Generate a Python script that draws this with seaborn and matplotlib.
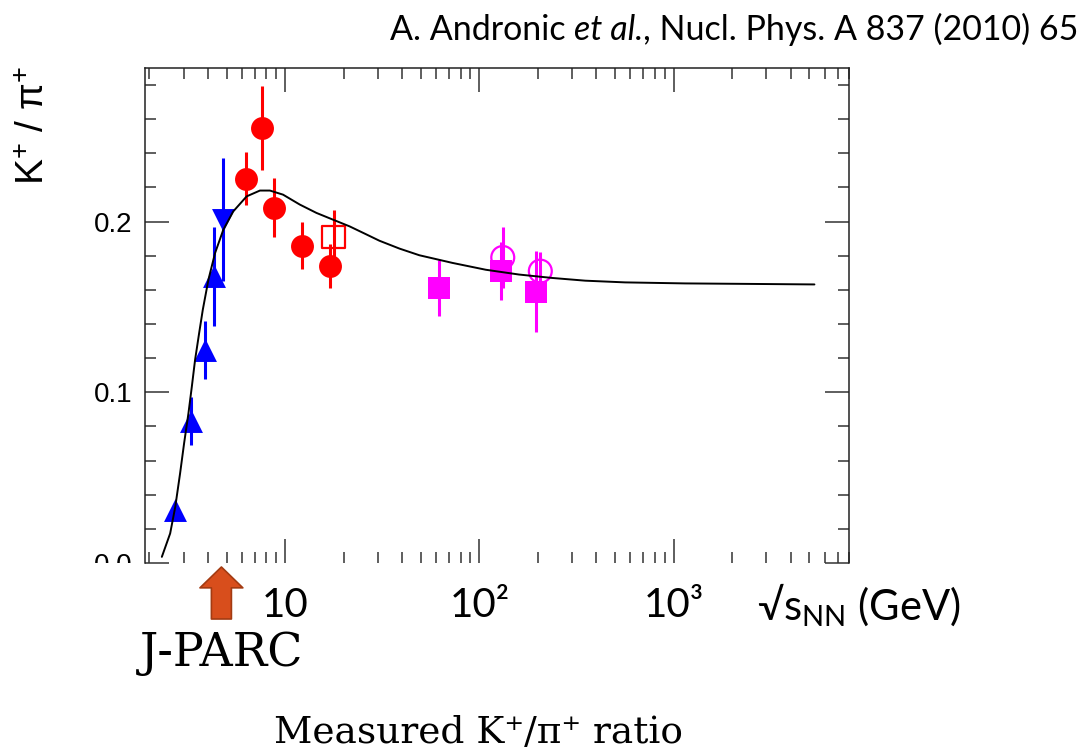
import numpy as np
import pandas as pd
import matplotlib
matplotlib.use("Agg")
import matplotlib.pyplot as plt
import seaborn as sns
from matplotlib.patches import Rectangle
from matplotlib.ticker import FixedLocator, LogLocator, MultipleLocator, NullFormatter

# ---------------- data ----------------
# statistical-hadronization model curve
model_sqrts = [2.32, 2.56, 2.72, 2.88, 3.02, 3.18, 3.31, 3.44, 3.61, 3.77, 4.03, 4.36,
               4.81, 5.41, 6.34, 7.42, 8.35, 9.76, 11.9, 14.5, 17.6, 21.5, 26.1, 30.6,
               38.8, 49.1, 72.8, 108, 160, 237, 351, 563, 1144, 2510, 5310]
model_ratio = [0.0036, 0.0173, 0.0329, 0.0525, 0.0701, 0.0877, 0.1033, 0.1190, 0.1347,
               0.1484, 0.1660, 0.1816, 0.1953, 0.2060, 0.2148, 0.2182, 0.2182, 0.2158,
               0.2100, 0.2051, 0.2012, 0.1972, 0.1926, 0.1888, 0.1842, 0.1803, 0.1758,
               0.1718, 0.1690, 0.1670, 0.1654, 0.1644, 0.1638, 0.1635, 0.1632]

# AGS (blue up triangles)
ags_sqrts = [2.70, 3.28, 3.86, 4.30]
ags_ratio = [0.031, 0.083, 0.125, 0.168]
ags_err = [0.004, 0.014, 0.017, 0.029]
# AGS (blue down triangle)
ags2_sqrts = [4.77]
ags2_ratio = [0.201]
ags2_err = [0.036]
# SPS NA49 (red filled circles)
na49_sqrts = [6.28, 7.59, 8.75, 12.2, 17.1]
na49_ratio = [0.225, 0.255, 0.208, 0.186, 0.174]
na49_err = [0.0155, 0.0245, 0.0173, 0.014, 0.013]
# SPS (red open square)
sps_sqrts = [17.8]
sps_ratio = [0.191]
sps_err = [0.016]
# RHIC (magenta filled squares)
rhic_sqrts = [61.7, 128.8, 196]
rhic_ratio = [0.161, 0.171, 0.159]
rhic_err = [0.0163, 0.017, 0.0237]
# RHIC (magenta open circles)
rhic2_sqrts = [132, 206]
rhic2_ratio = [0.179, 0.171]
rhic2_err = [0.0176, 0.011]

x_ticks = [10, 100, 1000]
x_tick_labels = ["10", "10²", "10³"]
y_ticks = [0.0, 0.1, 0.2]
y_tick_labels = ["0.0", "0.1", "0.2"]
JPARC_SQRTS = 4.7

# ---------------- style ----------------
sns.set_theme(style="ticks")
plt.rcParams["font.family"] = ["Liberation Sans", "DejaVu Sans"]
plt.rcParams["text.color"] = "black"
plt.rcParams["axes.labelcolor"] = "black"
plt.rcParams["xtick.color"] = "black"
plt.rcParams["ytick.color"] = "black"
plt.rcParams["mathtext.fontset"] = "custom"
plt.rcParams["mathtext.rm"] = "Lato"
plt.rcParams["mathtext.it"] = "Lato:italic"
plt.rcParams["mathtext.bf"] = "Lato:bold"

W, H = 1086, 751
fig = plt.figure(figsize=(W / 100, H / 100), dpi=100)
fig.patch.set_facecolor("white")
L, R, T, B = 145, 849, 68, 563
ax = fig.add_axes([L / W, 1 - B / H, (R - L) / W, (B - T) / H])
ax.set_facecolor("white")

BLUE, RED, MAG = "#0000FF", "#FF0000", "#FF00FF"
MS = 16.5 ** 2
ELW = 2.2

# error bars
for xs, ys, es, c in [(ags_sqrts, ags_ratio, ags_err, BLUE),
                      (ags2_sqrts, ags2_ratio, ags2_err, BLUE),
                      (na49_sqrts, na49_ratio, na49_err, RED),
                      (sps_sqrts, sps_ratio, sps_err, RED),
                      (rhic_sqrts, rhic_ratio, rhic_err, MAG),
                      (rhic2_sqrts, rhic2_ratio, rhic2_err, MAG)]:
    ax.errorbar(xs, ys, yerr=es, fmt="none", ecolor=c, elinewidth=ELW, capsize=0, zorder=2)

# filled markers
sns.scatterplot(x=ags_sqrts, y=ags_ratio, marker="^", s=MS, color=BLUE, edgecolor=BLUE,
                linewidth=0, ax=ax, zorder=3)
sns.scatterplot(x=ags2_sqrts, y=ags2_ratio, marker="v", s=MS, color=BLUE, edgecolor=BLUE,
                linewidth=0, ax=ax, zorder=3)
sns.scatterplot(x=na49_sqrts, y=na49_ratio, marker="o", s=MS, color=RED, edgecolor=RED,
                linewidth=0, ax=ax, zorder=3)
sns.scatterplot(x=rhic_sqrts, y=rhic_ratio, marker="s", s=MS * 0.95, color=MAG, edgecolor=MAG,
                linewidth=0, ax=ax, zorder=3)
# open markers
sns.scatterplot(x=sps_sqrts, y=sps_ratio, marker="s", s=MS, facecolor="none", edgecolor=RED,
                linewidth=1.6, ax=ax, zorder=3)
sns.scatterplot(x=rhic2_sqrts, y=rhic2_ratio, marker="o", s=MS, facecolor="none", edgecolor=MAG,
                linewidth=1.6, ax=ax, zorder=3)

# model curve
sns.lineplot(x=model_sqrts, y=model_ratio, color="black", linewidth=1.4, ax=ax, zorder=4,
             sort=False, estimator=None)

# ---------------- axes ----------------
ax.set_xscale("log")
ax.set_xlim(1.9, 8000)
ax.set_ylim(0, 0.29)
ax.xaxis.set_major_locator(FixedLocator(x_ticks))
ax.xaxis.set_minor_locator(LogLocator(base=10, subs=np.arange(2, 10)))
ax.xaxis.set_minor_formatter(NullFormatter())
ax.set_xticklabels(x_tick_labels, fontsize=29, family=["Lato", "DejaVu Sans"], color="black")
ax.yaxis.set_major_locator(FixedLocator(y_ticks))
ax.yaxis.set_minor_locator(MultipleLocator(0.02))
ax.set_yticklabels(y_tick_labels, fontsize=20, family="Liberation Sans", color="black")

ax.tick_params(which="both", direction="in", top=True, right=True, bottom=True, left=True,
               color="#333333", width=1.1)
ax.tick_params(which="major", length=17)
ax.tick_params(which="minor", length=8)
ax.tick_params(axis="x", which="major", pad=17)
ax.tick_params(axis="y", which="major", pad=9)
for side in ["left", "top", "right"]:
    ax.spines[side].set_color("#222222")
    ax.spines[side].set_linewidth(1.1)
ax.spines["bottom"].set_visible(False)
ax.grid(False)

ax.set_ylabel("K$^{+}$ / π$^{+}$", fontsize=28, family="Liberation Sans", color="black")
ax.yaxis.set_label_coords(-0.132, 0.883)
ax.set_xlabel("")

# cover the lower half of the "0.0" label as in the reference
fig.add_artist(Rectangle((0, 1 - 600 / H), 140 / W, (600 - B) / H, transform=fig.transFigure,
                         fc="white", ec="none", zorder=5))

# x-axis title
fig.text(757 / W, 1 - 620 / H, "√s$_{\\mathrm{NN}}$ (GeV)", ha="left", va="baseline",
         fontsize=30, family=["Lato", "DejaVu Sans"], color="black", zorder=6)

# reference line (pieces so that only "et al." is italic)
tfont = dict(fontsize=24.5, family=["Lato", "DejaVu Sans"], color="black")
t1 = fig.text(390 / W, 1 - 40 / H, "A. Andronic", ha="left", va="baseline", **tfont)
t2 = fig.text(0, 0, "", **tfont)
t2.remove()
t2 = plt.annotate(" et al.", xy=(1, 0), xycoords=t1, ha="left", va="bottom",
                  style="italic", annotation_clip=False, **tfont)
t3 = plt.annotate(", Nucl. Phys. A 837 (2010) 65", xy=(1, 0), xycoords=t2, ha="left",
                  va="bottom", annotation_clip=False, **tfont)

# J-PARC arrow
ax.annotate("", xy=(JPARC_SQRTS, 1 - 567 / H), xytext=(JPARC_SQRTS, 1 - 619 / H),
            xycoords=("data", "figure fraction"), textcoords=("data", "figure fraction"),
            arrowprops=dict(arrowstyle="simple,head_length=0.5,head_width=1.03,tail_width=0.48",
                            mutation_scale=30, fc="#D84E1C", ec="#A33B12", lw=1.2,
                            shrinkA=0, shrinkB=0),
            annotation_clip=False, zorder=6)
fig.text(140 / W, 1 - 666 / H, "J-PARC", ha="left", va="baseline", fontsize=33,
         family="DejaVu Serif", color="black", zorder=6)

fig.text(478 / W, 1 - 733 / H, "Measured K⁺/π⁺ ratio", ha="center", va="center",
         fontsize=27, family=["DejaVu Serif", "DejaVu Sans"], color="black", zorder=6)

fig.savefig("out.png", dpi=100, facecolor="white")
